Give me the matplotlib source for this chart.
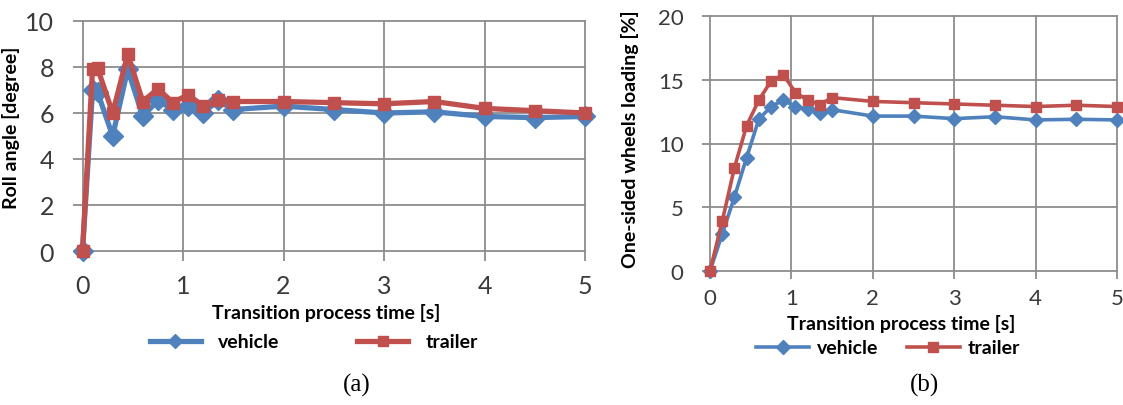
import matplotlib
matplotlib.use("Agg")
import matplotlib.pyplot as plt

# (a) roll angle
time_a = [0, 0.1, 0.15, 0.3, 0.45, 0.6, 0.75, 0.9, 1.05, 1.2, 1.35, 1.5, 2, 2.5, 3, 3.5, 4, 4.5, 5]
roll_vehicle = [0, 7.0, 6.9, 5.0, 7.9, 5.85, 6.55, 6.15, 6.3, 6.0, 6.55, 6.15, 6.3, 6.15, 6.0, 6.05, 5.85, 5.8, 5.85]
roll_trailer = [0, 7.9, 7.95, 6.0, 8.55, 6.5, 7.05, 6.45, 6.8, 6.3, 6.55, 6.5, 6.5, 6.45, 6.4, 6.5, 6.2, 6.1, 6.0]

# (b) one-sided wheels loading
time_b = [0, 0.15, 0.3, 0.45, 0.6, 0.75, 0.9, 1.05, 1.2, 1.35, 1.5, 2, 2.5, 3, 3.5, 4, 4.5, 5]
load_vehicle = [0, 2.9, 5.8, 8.9, 11.9, 12.9, 13.4, 12.9, 12.7, 12.4, 12.65, 12.15, 12.15, 11.95, 12.1, 11.85, 11.9, 11.85]
load_trailer = [0, 3.9, 8.1, 11.4, 13.4, 14.9, 15.4, 14.0, 13.4, 13.05, 13.6, 13.3, 13.2, 13.1, 13.0, 12.9, 13.0, 12.9]

x_ticks = [0, 1, 2, 3, 4, 5]
y_ticks_a = [0, 2, 4, 6, 8, 10]
y_ticks_b = [0, 5, 10, 15, 20]

BLUE = "#4f81bd"
RED = "#c0504d"
GRID = "#8c8c8c"
FONT = "Lato"

fig = plt.figure(figsize=(11.23, 4.06), dpi=100)
W, H = 1123, 406


def px_axes(x0, x1, y_top, y_bot):
    return fig.add_axes([x0 / W, 1 - y_bot / H, (x1 - x0) / W, (y_bot - y_top) / H])


def style_axes(ax, yticks, tick_size, tick_len, xpad, ypad):
    ax.set_xlim(0, 5)
    ax.set_ylim(yticks[0], yticks[-1])
    ax.set_xticks(x_ticks)
    ax.set_yticks(yticks)
    for s in ax.spines.values():
        s.set_visible(False)
    ax.grid(True, color=GRID, linewidth=1.3)
    ax.set_axisbelow(True)
    ax.tick_params(direction="out", length=tick_len, width=1.3, color=GRID,
                   labelsize=tick_size, labelcolor="#3a3a3a")
    ax.tick_params(axis="x", pad=xpad)
    ax.tick_params(axis="y", pad=ypad)
    for lab in ax.get_xticklabels() + ax.get_yticklabels():
        lab.set_family(FONT)
    for gl in ax.get_xgridlines() + ax.get_ygridlines():
        gl.set_clip_on(False)


# ---- panel (a)
ax1 = px_axes(82.5, 585, 22, 252)
style_axes(ax1, y_ticks_a, 18, 7, 9.5, 13.5)
ax1.plot(time_a, roll_vehicle, color=BLUE, lw=3.8, marker="D", ms=10, clip_on=False, zorder=3,
         label="vehicle")
ax1.plot(time_a, roll_trailer, color=RED, lw=3.8, marker="s", ms=9, clip_on=False, zorder=4,
         label="trailer")
ax1.set_ylabel("Roll angle [degree]", family=FONT, fontweight="bold", fontsize=14)
ax1.yaxis.set_label_coords((20 - 82.5) / (585 - 82.5), 0.54)
ax1.set_xlabel("Transition process time [s]", family=FONT, fontweight="bold", fontsize=14)
ax1.xaxis.set_label_coords((326 - 82.5) / (585 - 82.5), -(313 - 252) / 230)
ax1.xaxis.label.set_va("center")
ax1.legend(loc="center", bbox_to_anchor=(314 / W, 1 - 343 / H), bbox_transform=fig.transFigure,
           ncol=2, frameon=False, handlelength=2.6, handletextpad=0.9, columnspacing=4,
           markerscale=0.75, prop={"family": FONT, "weight": "bold", "size": 14})

# ---- panel (b)
ax2 = px_axes(710, 1117, 17, 272)
style_axes(ax2, y_ticks_b, 16, 6, 6.5, 13)
ax2.plot(time_b, load_vehicle, color=BLUE, lw=2.6, marker="D", ms=7.5, clip_on=False, zorder=3,
         label="vehicle")
ax2.plot(time_b, load_trailer, color=RED, lw=2.6, marker="s", ms=6.5, clip_on=False, zorder=4,
         label="trailer")
ax2.set_ylabel("One-sided wheels loading [%]", family=FONT, fontweight="bold", fontsize=14)
ax2.yaxis.set_label_coords((639 - 710) / 407, 0.52)
ax2.set_xlabel("Transition process time [s]", family=FONT, fontweight="bold", fontsize=14)
ax2.xaxis.set_label_coords((901 - 710) / 407, -(324 - 272) / 255)
ax2.xaxis.label.set_va("center")
ax2.legend(loc="center", bbox_to_anchor=(888 / W, 1 - 349 / H), bbox_transform=fig.transFigure,
           ncol=2, frameon=False, handlelength=2.7, handletextpad=0.4, columnspacing=1.5,
           markerscale=1.0, prop={"family": FONT, "weight": "bold", "size": 14})

fig.text(357 / W, 1 - 385 / H, "(a)", family="Liberation Serif", fontsize=18, ha="center", va="center")
fig.text(924 / W, 1 - 385 / H, "(b)", family="Liberation Serif", fontsize=18, ha="center", va="center")

fig.savefig("out.png", dpi=100)
